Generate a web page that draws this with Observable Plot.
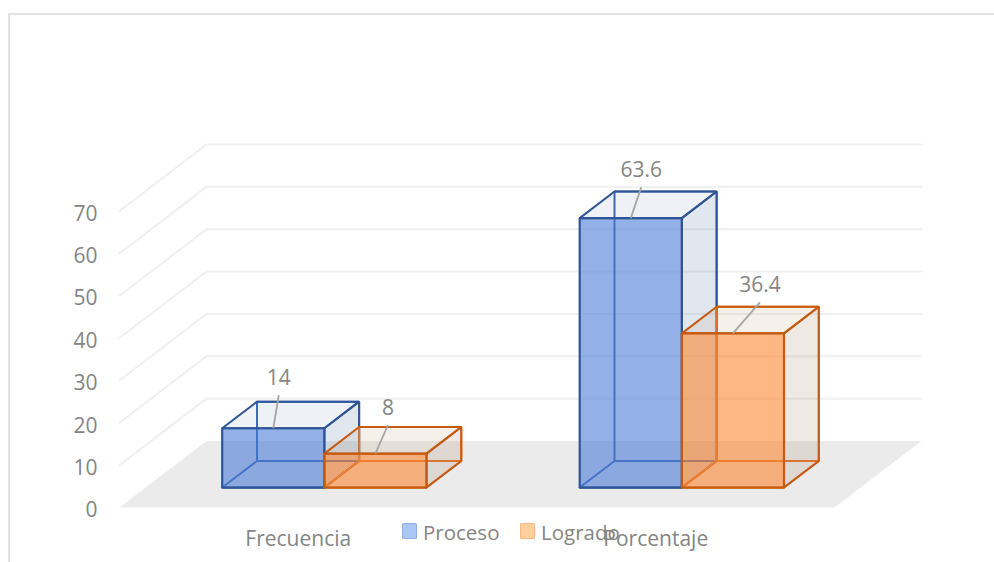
<!DOCTYPE html>
<html lang="es">
<head>
<meta charset="utf-8">
<script src="https://cdn.jsdelivr.net/npm/d3@7"></script>
<script src="https://cdn.jsdelivr.net/npm/@observablehq/plot@0.6"></script>
<style>
  html, body { margin: 0; padding: 0; background: #fff; overflow: hidden; }
  #wrap { position: relative; width: 994px; height: 562px; font-family: "Open Sans", sans-serif; }
  #frame { position: absolute; left: 8px; top: 13px; right: 0; bottom: 0; border-top: 2px solid #e3e3e3; border-left: 2px solid #e3e3e3; }
  #legend { position: absolute; left: 402px; top: 517px; height: 30px; color: #858585; font-size: 20.5px; line-height: 30px; }
  .item { position: absolute; top: 0; white-space: nowrap; }
  .swatch { position: absolute; top: 6px; width: 13px; height: 14px; border: 1.5px solid; border-radius: 1px; }
  .item span { position: absolute; left: 21px; }
  svg { position: absolute; left: 0; top: 0; background: transparent !important; }
</style>
</head>
<body>
<div id="wrap"><div id="frame"></div></div>
<script>
const categories = ["Frecuencia", "Porcentaje"];
const seriesNames = ["Proceso", "Logrado"];
const proceso = [14, 63.6];
const logrado = [8, 36.4];
const yTicks = [0, 10, 20, 30, 40, 50, 60, 70];
const gridValues = [10, 20, 30, 40, 50, 60, 70];

// Oblique projection: depth runs 0 (front of floor) to 1 (back wall)
const depthX = 87 / 357.5;    // category units per unit depth
const depthY = 66.5 / 4.236;  // value units per unit depth
const barW = 1 / 3.5;
const gap = 0.75 * barW;
const d0 = 0.3, d1 = 0.7;
const P = (x, y, d) => ({x: x + d * depthX, y: y + d * depthY});

const styles = [
  {front: "#487bd4", top: "#44689c", side: "#44689c", edge: "#2f5597", back: "#3f6ab5", topA: 0.09, sideA: 0.16},
  {front: "#fc8530", top: "#b48258", side: "#9b6f50", edge: "#c55a11", back: "#e5762a", topA: 0.12, sideA: 0.16}
];

function poly(points, o) {
  return Plot.line([...points, points[0], points[1]], {
    x: "x", y: "y", curve: "linear", strokeLinejoin: "miter",
    fill: o.fill || "none", fillOpacity: o.fillOpacity ?? 1,
    stroke: o.stroke || "none", strokeWidth: o.strokeWidth ?? 2
  });
}

function box(x0, value, s) {
  const x1 = x0 + barW;
  const corner = (x, y, d) => P(x, y, d);
  const marks = [];
  const faces = {
    back:  [corner(x0, 0, d1), corner(x1, 0, d1), corner(x1, value, d1), corner(x0, value, d1)],
    floor: [corner(x0, 0, d0), corner(x1, 0, d0), corner(x1, 0, d1), corner(x0, 0, d1)],
    top:   [corner(x0, value, d0), corner(x1, value, d0), corner(x1, value, d1), corner(x0, value, d1)],
    side:  [corner(x1, 0, d0), corner(x1, 0, d1), corner(x1, value, d1), corner(x1, value, d0)],
    front: [corner(x0, 0, d0), corner(x1, 0, d0), corner(x1, value, d0), corner(x0, value, d0)]
  };
  marks.push(poly(faces.back, {stroke: s.back}));
  marks.push(poly(faces.floor, {stroke: s.back}));
  marks.push(poly(faces.top, {fill: s.top, fillOpacity: s.topA, stroke: s.edge}));
  marks.push(poly(faces.side, {fill: s.side, fillOpacity: s.sideA, stroke: s.edge}));
  marks.push(poly(faces.front, {fill: s.front, fillOpacity: 0.59, stroke: s.edge, strokeWidth: 2.2}));
  return marks;
}

const unitX = 357.5, unitY = 4.236; // pixels per scale unit, for the label offsets
const labels = [];
const offsets = [[[5.5, 33], [10.5, 31]], [[12.5, 28.5], [27, 31]]];
[proceso, logrado].forEach((vals, s) => vals.forEach((v, c) => {
  const x0 = c + gap + s * barW;
  const base = P(x0 + barW / 2, v, d0);
  const [ox, oy] = offsets[s][c];
  labels.push({x1: base.x, y1: base.y, x2: base.x + ox / unitX, y2: base.y + oy / unitY, text: String(v)});
}));

const floorPts = [P(0, 0, 0), P(2, 0, 0), P(2, 0, 1), P(0, 0, 1)];
const gridMarks = gridValues.map(v =>
  Plot.line([P(0, v, 0), P(0, v, 1), P(2, v, 1)], {x: "x", y: "y", stroke: "#f0f0f0", strokeWidth: 2})
);
const boxMarks = [];
categories.forEach((_, c) => {
  boxMarks.push(...box(c + gap, proceso[c], styles[0]));
  boxMarks.push(...box(c + gap + barW, logrado[c], styles[1]));
});

const chart = Plot.plot({
  width: 994, height: 562,
  marginLeft: 119, marginRight: 160, marginTop: 210.5, marginBottom: 55,
  style: {fontFamily: '"Open Sans", sans-serif', background: "transparent", overflow: "visible"},
  x: {type: "linear", domain: [0, 2]},
  y: {type: "linear", domain: [0, 70]},
  marks: [
    ...gridMarks,
    poly(floorPts, {fill: "#ebebeb"}),
    ...boxMarks,
    Plot.link(labels, {x1: "x1", y1: "y1", x2: "x2", y2: "y2", stroke: "#a6a6a6", strokeWidth: 1.8}),
    Plot.text(labels, {x: "x2", y: "y2", text: "text", dy: -17, fontSize: 21, fill: "#858585"}),
    Plot.axisY(yTicks, {tickSize: 0, tickPadding: 22, dy: 3, fontSize: 21, fill: "#858585", label: null}),
    Plot.axisX([0.5, 1.5], {tickSize: 0, tickPadding: 23.5, fontSize: 21, fill: "#858585", label: null,
      tickFormat: d => categories[Math.floor(d)]})
  ]
});
document.getElementById("wrap").appendChild(chart);

const legend = document.createElement("div");
legend.id = "legend";
const legendFill = [["#a9c7f7", "#8fb1e8"], ["#ffd09c", "#fbb683"]];
seriesNames.forEach((name, i) => {
  const item = document.createElement("div");
  item.className = "item";
  item.style.left = (i * 118) + "px";
  const sw = document.createElement("div");
  sw.className = "swatch";
  sw.style.background = legendFill[i][0];
  sw.style.borderColor = legendFill[i][1];
  const label = document.createElement("span");
  label.textContent = name;
  item.append(sw, label);
  legend.appendChild(item);
});
document.getElementById("wrap").appendChild(legend);
</script>
</body>
</html>
